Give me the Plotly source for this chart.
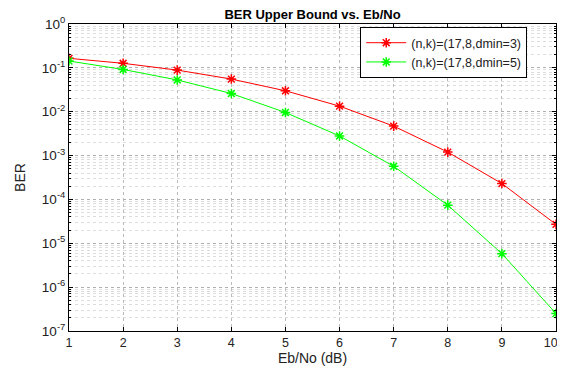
import plotly.graph_objects as go

ebno = [1, 2, 3, 4, 5, 6, 7, 8, 9, 10]
ber_dmin3 = [0.165, 0.127, 0.089, 0.0555, 0.030, 0.0134, 0.0047, 0.0012, 2.3e-4, 2.7e-5]
ber_dmin5 = [0.143, 0.092, 0.053, 0.026, 0.0096, 0.0028, 5.7e-4, 7.4e-5, 5.8e-6, 2.5e-7]
name3 = "(n,k)=(17,8,dmin=3)"
name5 = "(n,k)=(17,8,dmin=5)"
x_ticktext = ["1", "2", "3", "4", "5", "6", "7", "8", "9", "10&nbsp;&nbsp;&nbsp;"]
y_tickvals = [1, 1e-1, 1e-2, 1e-3, 1e-4, 1e-5, 1e-6, 1e-7]
y_ticktext = ["10<sup>0</sup>", "10<sup>-1</sup>", "10<sup>-2</sup>", "10<sup>-3</sup>",
              "10<sup>-4</sup>", "10<sup>-5</sup>", "10<sup>-6</sup>", "10<sup>-7</sup>"]

fig = go.Figure()
fig.add_trace(go.Scatter(x=ebno, y=ber_dmin3, mode="lines+markers", name=name3,
                         line=dict(color="#ff0000", width=1),
                         marker=dict(symbol="asterisk-open", size=8, color="#ff0000",
                                     line=dict(color="#ff0000", width=1.5))))
fig.add_trace(go.Scatter(x=ebno, y=ber_dmin5, mode="lines+markers", name=name5,
                         line=dict(color="#00ff00", width=1),
                         marker=dict(symbol="asterisk-open", size=8, color="#00ff00",
                                     line=dict(color="#00ff00", width=1.5))))

# page body has an 8px margin, so the figure is sized to fit the 565x369 window
W, H = 557, 361
font = "Liberation Sans, Arial, sans-serif"
fig.update_layout(
    width=W, height=H,
    margin=dict(l=61, r=9, t=16, b=38),
    paper_bgcolor="white", plot_bgcolor="white",
    font=dict(family=font, size=13, color="#222"),
    title=dict(text="<b>BER Upper Bound vs. Eb/No</b>", x=0.5, xref="paper", xanchor="center",
               y=1 - 6 / H, yanchor="middle", font=dict(size=13, color="#000")),
    showlegend=True,
    legend=dict(x=0.598, y=0.99, xanchor="left", yanchor="top",
                bgcolor="white", bordercolor="#000", borderwidth=1,
                font=dict(size=12.5, color="#222"), tracegroupgap=0, itemwidth=40),
)
fig.update_xaxes(
    range=[1, 10], tickvals=ebno, ticktext=x_ticktext,
    ticks="inside", ticklen=4, tickcolor="#000",
    tickfont=dict(size=12.5), automargin=False, ticklabeloverflow="allow",
    showline=True, linecolor="#000", linewidth=1, mirror="ticks",
    showgrid=True, gridcolor="#bbbbbb", griddash="dot", gridwidth=1,
    zeroline=False,
    title=dict(text="Eb/No (dB)", font=dict(size=14, color="#222"), standoff=4),
)
fig.update_yaxes(
    type="log", range=[-7, 0], tickvals=y_tickvals, ticktext=y_ticktext,
    ticks="inside", ticklen=4, tickcolor="#000",
    tickfont=dict(size=13.5), automargin=False,
    showline=True, linecolor="#000", linewidth=1, mirror="ticks",
    showgrid=True, gridcolor="#b0b0b0", griddash="dot", gridwidth=1,
    zeroline=False,
    minor=dict(dtick="D1", ticks="inside", ticklen=2, tickcolor="#000",
               showgrid=True, gridcolor="#dddddd", griddash="dot", gridwidth=1),
    title=dict(text="BER", font=dict(size=14, color="#222"), standoff=12),
)
fig.write_html("out.html")
